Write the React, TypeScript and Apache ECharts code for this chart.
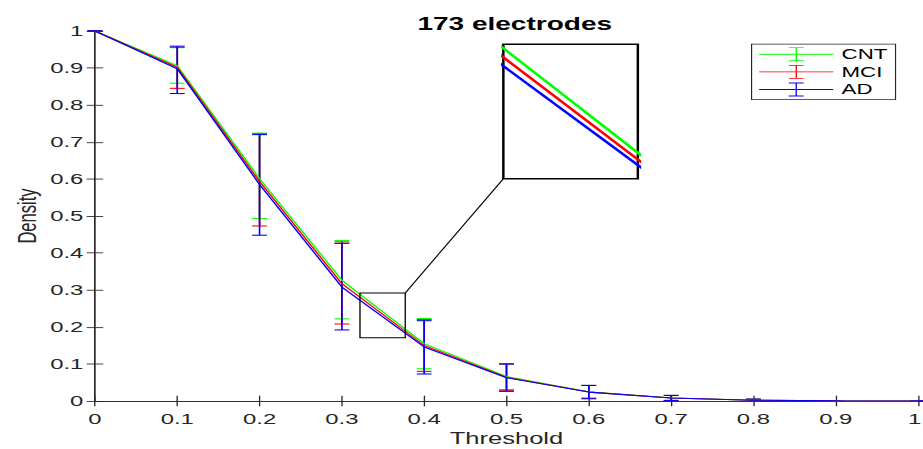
import React, { useEffect, useRef } from "react";
import * as echarts from "echarts";

// ---- data ----
const thresholds = [0, 0.1, 0.2, 0.3, 0.4, 0.5, 0.6, 0.7, 0.8, 0.9, 1];

const cntMean = [1, 0.906, 0.601, 0.326, 0.155, 0.066, 0.025, 0.008, 0.002, 0.0005, 0];
const cntLow = [1, 0.859, 0.493, 0.222, 0.087, 0.031, 0.008, 0.002, 0.0, 0.0, 0];
const cntHigh = [1, 0.955, 0.724, 0.434, 0.223, 0.101, 0.042, 0.015, 0.005, 0.001, 0];

const mciMean = [1, 0.902, 0.593, 0.317, 0.15, 0.064, 0.024, 0.008, 0.002, 0.0004, 0];
const mciLow = [1, 0.845, 0.473, 0.208, 0.08, 0.029, 0.007, 0.001, 0.0, 0.0, 0];
const mciHigh = [1, 0.956, 0.722, 0.43, 0.22, 0.1, 0.042, 0.015, 0.005, 0.001, 0];

const adMean = [1, 0.898, 0.585, 0.308, 0.146, 0.063, 0.024, 0.008, 0.002, 0.0004, 0];
const adLow = [1, 0.831, 0.448, 0.192, 0.073, 0.026, 0.006, 0.001, 0.0, 0.0, 0];
const adHigh = [1, 0.959, 0.72, 0.426, 0.217, 0.1, 0.042, 0.015, 0.005, 0.001, 0];

const groupNames = ["CNT", "MCI", "AD"];
const groupColors = ["#00ff00", "#ff0000", "#0000ff"];

// zoomed window shown in the inset
const zoomX = [0.322, 0.377];
const zoomY = [0.171, 0.292];

const titleText = "173 electrodes";
const xLabel = "Threshold";
const yLabel = "Density";

const FONT = "Liberation Sans, Arial, Helvetica, sans-serif";
const AXIS = "#262626";

const LEGEND_ICON =
  "path://M0,6.6H45V7.4H0Z M22.1,0.5H22.9V13.5H22.1Z M18,0.5H27V1.3H18Z M18,12.7H27V13.5H18Z";

export default function App() {
  const ref = useRef<HTMLDivElement>(null);

  useEffect(() => {
    if (!ref.current) return;
    const chart = echarts.init(ref.current, null, { renderer: "svg" });

    const means = [cntMean, mciMean, adMean];
    const lows = [cntLow, mciLow, adLow];
    const highs = [cntHigh, mciHigh, adHigh];

    const series: any[] = [];
    groupNames.forEach((name, i) => {
      const color = groupColors[i];
      series.push({
        name,
        type: "line",
        xAxisIndex: 0,
        yAxisIndex: 0,
        data: thresholds.map((t, k) => [t, means[i][k]]),
        symbol: "none",
        color,
        lineStyle: { color, width: 1 },
      });
      series.push({
        name,
        type: "custom",
        xAxisIndex: 0,
        yAxisIndex: 0,
        color,
        data: thresholds.map((t, k) => [t, lows[i][k], highs[i][k]]),
        encode: { x: 0, y: [1, 2] },
        renderItem: (params: any, api: any) => {
          const x = api.value(0);
          const pLo = api.coord([x, api.value(1)]);
          const pHi = api.coord([x, api.value(2)]);
          const hw = 4.5;
          const style = { stroke: color, lineWidth: 1, fill: "none" };
          return {
            type: "group",
            children: [
              { type: "line", shape: { x1: pLo[0], y1: pLo[1], x2: pHi[0], y2: pHi[1] }, style },
              { type: "line", shape: { x1: pLo[0] - hw, y1: pLo[1], x2: pLo[0] + hw, y2: pLo[1] }, style },
              { type: "line", shape: { x1: pHi[0] - hw, y1: pHi[1], x2: pHi[0] + hw, y2: pHi[1] }, style },
            ],
          };
        },
      });
    });
    // inset (zoomed) lines
    groupNames.forEach((name, i) => {
      const color = groupColors[i];
      series.push({
        name,
        type: "line",
        xAxisIndex: 2,
        yAxisIndex: 2,
        data: thresholds.map((t, k) => [t, means[i][k]]),
        symbol: "none",
        clip: true,
        color,
        lineStyle: { color, width: 2 },
      });
    });

    const tickLabel = { fontFamily: FONT, fontSize: 14.5, color: AXIS };
    const axisLine = { show: true, lineStyle: { color: AXIS, width: 0.8 } };
    const axisTick = { show: true, inside: true, length: 5, lineStyle: { color: AXIS, width: 0.8 } };

    const option: any = {
      animation: false,
      backgroundColor: "#ffffff",
      title: {
        text: titleText,
        left: 307.3,
        top: 9,
        textAlign: "center",
        textStyle: { fontFamily: FONT, fontSize: 17, fontWeight: "bold", color: "#000" },
      },
      legend: {
        orient: "vertical",
        left: 456,
        top: 41.2,
        padding: [2.5, 5, 2.5, 4.6],
        itemGap: 2.5,
        itemWidth: 45,
        itemHeight: 14,
        backgroundColor: "#fff",
        borderColor: AXIS,
        borderWidth: 0.7,
        itemStyle: { borderWidth: 0 },
        textStyle: { fontFamily: FONT, fontSize: 13.5, color: "#000", padding: [0, 0, 0, 0] },
        data: groupNames.map((n) => ({ name: n, icon: LEGEND_ICON })),
      },
      grid: [
        { left: 57.6, right: 3, top: 29, bottom: 44.9, show: false, containLabel: false, outerBoundsMode: "none" },
        {
          left: 305.4,
          top: 41.4,
          width: 81.6,
          height: 125.8,
          show: true,
          backgroundColor: "#fff",
          borderColor: "#000",
          borderWidth: 1.5,
          containLabel: false,
          outerBoundsMode: "none",
        },
      ],
      xAxis: [
        {
          type: "value",
          gridIndex: 0,
          min: 0,
          max: 1,
          interval: 0.1,
          position: "bottom",
          axisLine,
          axisTick,
          splitLine: { show: false },
          axisLabel: {
            ...tickLabel,
            margin: 9,
            formatter: (v: number) => (v === 1 ? "{edge|1}" : String(v)),
            rich: {
              edge: { fontFamily: FONT, fontSize: 14.5, color: AXIS, padding: [0, 4, 0, 0] },
            },
          },
          name: xLabel,
          nameLocation: "middle",
          nameGap: 27,
          nameMoveOverlap: false,
          nameTextStyle: { fontFamily: FONT, fontSize: 15.5, color: AXIS },
        },
        {
          type: "value",
          gridIndex: 0,
          min: 0,
          max: 1,
          interval: 0.1,
          position: "top",
          axisLine,
          axisTick,
          splitLine: { show: false },
          axisLabel: { show: false },
        },
        {
          type: "value",
          gridIndex: 1,
          min: zoomX[0],
          max: zoomX[1],
          show: false,
          splitLine: { show: false },
        },
      ],
      yAxis: [
        {
          type: "value",
          gridIndex: 0,
          min: 0,
          max: 1,
          interval: 0.1,
          position: "left",
          axisLine,
          axisTick,
          splitLine: { show: false },
          axisLabel: { ...tickLabel, margin: 7 },
          name: yLabel,
          nameLocation: "middle",
          nameGap: 33,
          nameMoveOverlap: false,
          nameTextStyle: { fontFamily: FONT, fontSize: 15.5, color: AXIS },
        },
        {
          type: "value",
          gridIndex: 0,
          min: 0,
          max: 1,
          interval: 0.1,
          position: "right",
          axisLine,
          axisTick,
          splitLine: { show: false },
          axisLabel: { show: false },
        },
        {
          type: "value",
          gridIndex: 1,
          min: zoomY[0],
          max: zoomY[1],
          show: false,
          splitLine: { show: false },
        },
      ],
      series,
    };

    chart.setOption(option);

    // zoom rectangle on the main axes and connector to the inset
    const tl = chart.convertToPixel({ xAxisIndex: 0, yAxisIndex: 0 } as any, [zoomX[0], zoomY[1]]) as number[];
    const br = chart.convertToPixel({ xAxisIndex: 0, yAxisIndex: 0 } as any, [zoomX[1], zoomY[0]]) as number[];
    const insetBL = chart.convertToPixel({ xAxisIndex: 2, yAxisIndex: 2 } as any, [zoomX[0], zoomY[0]]) as number[];
    if (tl && br && insetBL) {
      chart.setOption({
        graphic: [
          {
            type: "rect",
            z: 20,
            shape: { x: tl[0], y: tl[1], width: br[0] - tl[0], height: br[1] - tl[1] },
            style: { fill: "none", stroke: "#000", lineWidth: 0.8 },
          },
          {
            type: "line",
            z: 20,
            shape: { x1: br[0], y1: tl[1], x2: insetBL[0], y2: insetBL[1] },
            style: { stroke: "#000", lineWidth: 0.8 },
          },
        ],
      });
    }

    return () => chart.dispose();
  }, []);

  return (
    <div
      style={{
        position: "absolute",
        left: 0,
        top: 0,
        width: 560,
        height: 420,
        transform: "scale(1.6482, 1.0690)",
        transformOrigin: "0 0",
        background: "#fff",
      }}
    >
      <div ref={ref} style={{ width: 560, height: 420 }} />
    </div>
  );
}
